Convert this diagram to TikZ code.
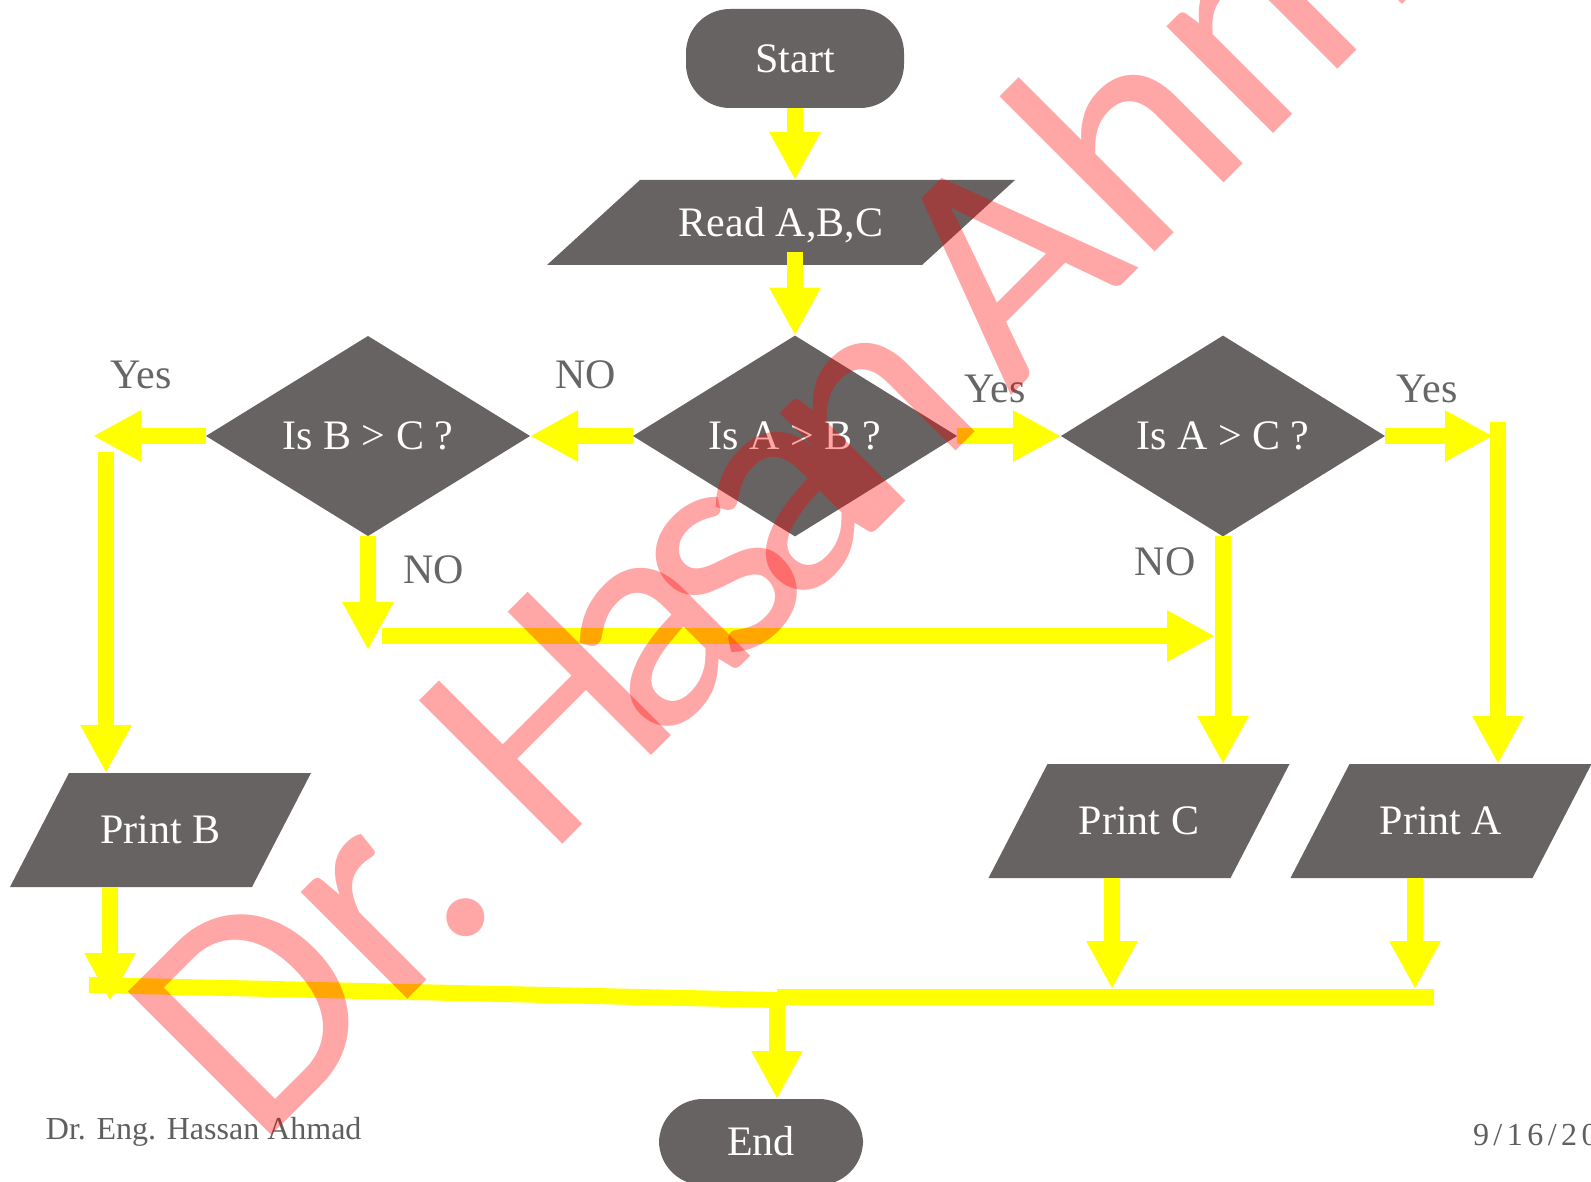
\documentclass[tikz,border=0pt]{standalone}
\usepackage{fontspec}
\setmainfont{Liberation Serif}
\newfontfamily\wmfont{Carlito}
\newfontfamily\datefont[LetterSpace=14]{Liberation Serif}
\usetikzlibrary{arrows.meta,shapes.geometric,calc}

\definecolor{boxgray}{RGB}{103,99,98}
\definecolor{flowyellow}{RGB}{255,255,0}
\definecolor{labelgray}{RGB}{102,102,102}
\definecolor{footgray}{RGB}{95,95,95}

\tikzset{
  every node/.style={inner sep=0pt, outer sep=0pt},
  boxtext/.style={text=white, font=\fontsize{21pt}{25pt}\selectfont,
                  text height=13.9pt, text depth=0pt},
  terminal/.style n args={2}{boxtext, rectangle, fill=boxgray, rounded corners=22pt,
                  minimum width=#1, minimum height=#2},
  decision/.style={boxtext, diamond, fill=boxgray,
                  minimum width=162pt, minimum height=100pt},
  iobox/.style n args={3}{boxtext, rectangle, minimum width=#1, minimum height=#2,
    path picture={\fill[boxgray] (path picture bounding box.south west)
       -- ([xshift=-#3]path picture bounding box.south east)
       -- (path picture bounding box.north east)
       -- ([xshift=#3]path picture bounding box.north west) -- cycle;}},
  arr/.style={draw=flowyellow, line width=8pt,
              -{Triangle[length=24pt,width=24pt]}},
  bar/.style={draw=flowyellow, line width=8pt},
  lbl/.style={anchor=base, text=labelgray, font=\fontsize{21pt}{25pt}\selectfont},
  foot/.style={anchor=base west, text=footgray, font=\fontsize{16pt}{19pt}\selectfont},
}

\begin{document}
\begin{tikzpicture}[x=0.5pt,y=-0.5pt]
\useasboundingbox (0,0) rectangle (1591,1182);
\fill[white] (0,0) rectangle (1591,1182);
\clip (0,0) rectangle (1591,1182);

% flowchart blocks
\node[terminal={109pt}{49.5pt}] (start) at (795,58.5) {Start};
\node[iobox={234pt}{42.5pt}{46.5pt}] (read) at (781,222.5) {Read A,B,C};
\node[decision] (bc) at (368,436) {Is B > C ?};
\node[decision] (ab) at (795,436) {Is A > B ?};
\node[decision] (ac) at (1223,436) {Is A > C ?};
\node[iobox={150.5pt}{57pt}{29.5pt}] (printB) at (160.5,830) {Print B};
\node[iobox={150.5pt}{57pt}{29.5pt}] (printC) at (1139,821) {Print C};
\node[iobox={150.5pt}{57pt}{29.5pt}] (printA) at (1441,821) {Print A};
\node[terminal={102pt}{43pt}] (endn) at (761,1142) {End};

% free ends of the connectors
\coordinate (yesL)  at (93,436);
\coordinate (bStem) at (106,452);
\coordinate (bcNo)  at (368,650);
\coordinate (hL)    at (382,636);
\coordinate (hR)    at (1215,636);
\coordinate (yesR)  at (1493,436);
\coordinate (aStem) at (1498,422);
\coordinate (bDrop) at (110,1001);
\coordinate (cDrop) at (1112,989);
\coordinate (aDrop) at (1415,989);
\coordinate (bl)    at (89,985);
\coordinate (bm)    at (777,1000);
\coordinate (jn)    at (777,997);
\coordinate (br)    at (1434,997);

% connectors
\draw[arr] (start.south) -- (start.south |- read.north);
\draw[arr] ($(read.south -| ab.north)+(0,-13)$) -- (ab.north);
\draw[arr] (ab.west) -- (bc.east);
\draw[arr] (bc.west) -- (yesL);
\draw[arr] (bStem) -- (bStem |- printB.north);
\draw[arr] (bc.south) -- (bcNo);
\draw[arr] (hL) -- (hR);
\draw[arr] (ab.east) -- (ac.west);
\draw[arr] (ac.east) -- (yesR);
\draw[arr] (aStem) -- (aStem |- printA.north);
\draw[arr] (ac.south) -- (ac.south |- printC.north);
\draw[arr] (printB.south -| bDrop) -- (bDrop);
\draw[arr] (printC.south -| cDrop) -- (cDrop);
\draw[arr] (printA.south -| aDrop) -- (aDrop);
\draw[bar] (bl) -- (bm);
\draw[bar] (jn) -- (br);
\draw[arr] (jn) -- (jn |- endn.north);

% branch labels
\node[lbl] (yesBC) at (141,388) {Yes};
\node[lbl] (noAB)  at (586,388) {NO};
\node[lbl] (noBC)  at (434,583) {NO};
\node[lbl] (yesAB) at (995,402) {Yes};
\node[lbl] (yesAC) at (1427,402) {Yes};
\node[lbl] (noAC)  at (1165,575) {NO};

% footer
\node[foot] (author) at (46,1139) {Dr. Eng. Hassan Ahmad};
\node[foot, font=\datefont\fontsize{16pt}{19pt}\selectfont] (date) at (1473,1145) {9/16/20};

% watermark
\node[anchor=base west, rotate=45, text=red, text opacity=0.35,
      font=\wmfont\fontsize{158pt}{160pt}\selectfont] (mark) at (256.5,1150.5)
  {Dr.\kern-0.04em\ H\kern-0.13em a\kern-0.13em s\kern-0.13em a\kern-0.13em n\kern-0.13em\ Ahmad};
\end{tikzpicture}
\end{document}
